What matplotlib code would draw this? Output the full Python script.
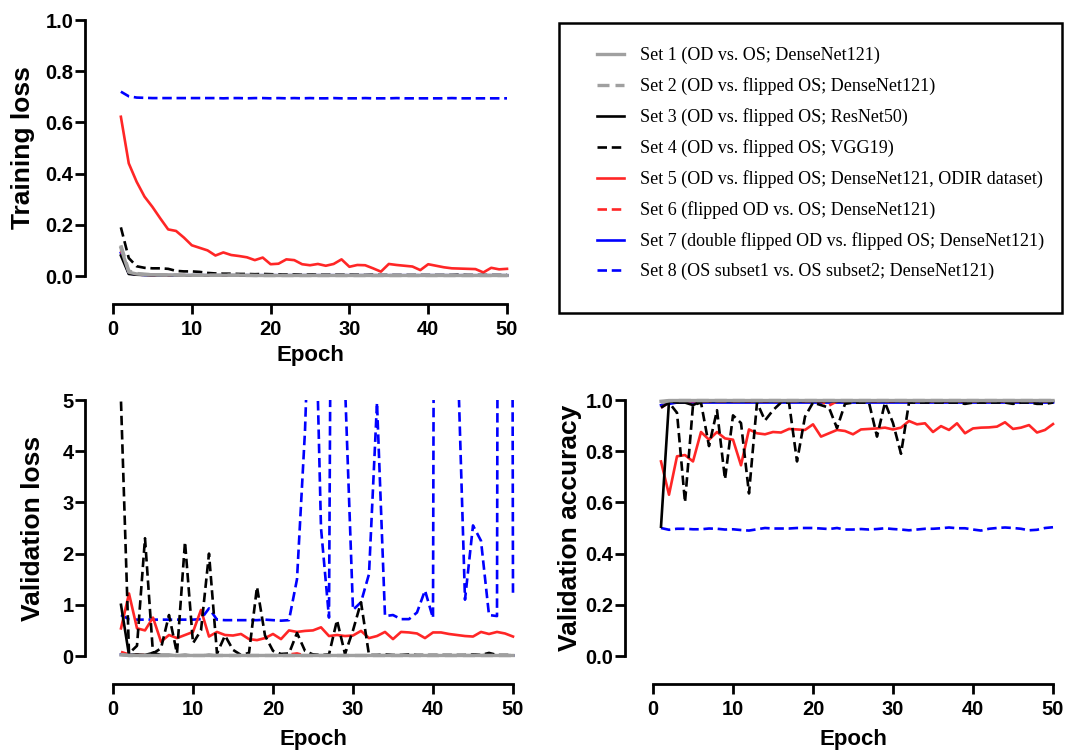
import matplotlib
matplotlib.use("Agg")
import matplotlib.pyplot as plt
import numpy as np
from matplotlib.patches import Rectangle
from matplotlib.ticker import FormatStrFormatter

EPOCHS = np.arange(1, 51)

SET_LABELS = [
    "Set 1 (OD vs. OS; DenseNet121)",
    "Set 2 (OD vs. flipped OS; DenseNet121)",
    "Set 3 (OD vs. flipped OS; ResNet50)",
    "Set 4 (OD vs. flipped OS; VGG19)",
    "Set 5 (OD vs. flipped OS; DenseNet121, ODIR dataset)",
    "Set 6 (flipped OD vs. OS; DenseNet121)",
    "Set 7 (double flipped OD vs. flipped OS; DenseNet121)",
    "Set 8 (OS subset1 vs. OS subset2; DenseNet121)",
]
SET_COLORS = ["#a0a0a0", "#a0a0a0", "#000000", "#000000",
              "#ff2626", "#ff2626", "#0000ff", "#0000ff"]
SET_DASHED = [False, True, False, True, False, True, False, True]

# ---- training loss ----
TRAIN_SET1 = [0.110, 0.015, 0.008, 0.006, 0.005, 0.004, 0.004, 0.004, 0.003, 0.003,
              0.003, 0.003, 0.003, 0.003, 0.003, 0.003, 0.003, 0.002, 0.002, 0.002,
              0.002, 0.002, 0.002, 0.002, 0.002, 0.002, 0.002, 0.002, 0.002, 0.002,
              0.002, 0.002, 0.002, 0.002, 0.002, 0.002, 0.002, 0.002, 0.002, 0.002,
              0.002, 0.002, 0.002, 0.002, 0.002, 0.002, 0.002, 0.002, 0.002, 0.002]
TRAIN_SET2 = [0.120, 0.020, 0.010, 0.007, 0.005, 0.005, 0.004, 0.004, 0.003, 0.003,
              0.003, 0.003, 0.003, 0.003, 0.003, 0.003, 0.002, 0.002, 0.002, 0.002,
              0.002, 0.002, 0.002, 0.002, 0.002, 0.002, 0.002, 0.002, 0.002, 0.002,
              0.002, 0.002, 0.002, 0.002, 0.002, 0.002, 0.002, 0.002, 0.002, 0.002,
              0.002, 0.002, 0.002, 0.002, 0.002, 0.002, 0.002, 0.002, 0.002, 0.002]
TRAIN_SET3 = [0.080, 0.008, 0.005, 0.004, 0.003, 0.003, 0.003, 0.003, 0.002, 0.002,
              0.002, 0.002, 0.002, 0.002, 0.002, 0.002, 0.002, 0.002, 0.002, 0.002,
              0.002, 0.002, 0.002, 0.002, 0.002, 0.002, 0.002, 0.002, 0.002, 0.002,
              0.002, 0.002, 0.002, 0.002, 0.002, 0.002, 0.002, 0.002, 0.002, 0.002,
              0.002, 0.002, 0.002, 0.002, 0.002, 0.002, 0.002, 0.002, 0.002, 0.002]
TRAIN_SET4 = [0.190, 0.070, 0.038, 0.032, 0.030, 0.030, 0.028, 0.020, 0.018, 0.018,
              0.016, 0.012, 0.010, 0.009, 0.009, 0.008, 0.008, 0.007, 0.008, 0.007,
              0.006, 0.006, 0.006, 0.005, 0.006, 0.005, 0.005, 0.005, 0.005, 0.005,
              0.005, 0.004, 0.005, 0.004, 0.004, 0.004, 0.004, 0.004, 0.004, 0.004,
              0.004, 0.004, 0.004, 0.005, 0.004, 0.004, 0.004, 0.004, 0.004, 0.004]
TRAIN_SET5 = [0.622, 0.440, 0.368, 0.310, 0.270, 0.225, 0.182, 0.176, 0.150, 0.120,
              0.110, 0.100, 0.080, 0.092, 0.082, 0.078, 0.073, 0.062, 0.072, 0.046,
              0.048, 0.065, 0.062, 0.046, 0.042, 0.047, 0.040, 0.047, 0.065, 0.036,
              0.043, 0.042, 0.030, 0.017, 0.047, 0.043, 0.040, 0.037, 0.023, 0.046,
              0.040, 0.034, 0.030, 0.029, 0.028, 0.027, 0.014, 0.032, 0.026, 0.028]
TRAIN_SET6 = [0.100, 0.012, 0.006, 0.004, 0.004, 0.003, 0.003, 0.003, 0.003, 0.002,
              0.002, 0.002, 0.002, 0.002, 0.002, 0.002, 0.002, 0.002, 0.002, 0.002,
              0.002, 0.002, 0.002, 0.002, 0.002, 0.002, 0.002, 0.002, 0.002, 0.002,
              0.002, 0.002, 0.002, 0.002, 0.002, 0.002, 0.002, 0.002, 0.002, 0.002,
              0.002, 0.002, 0.002, 0.002, 0.002, 0.002, 0.002, 0.002, 0.002, 0.002]
TRAIN_SET7 = [0.090, 0.010, 0.006, 0.004, 0.004, 0.003, 0.003, 0.003, 0.003, 0.003,
              0.003, 0.003, 0.003, 0.003, 0.003, 0.003, 0.003, 0.003, 0.003, 0.003,
              0.003, 0.003, 0.003, 0.003, 0.003, 0.003, 0.003, 0.003, 0.003, 0.003,
              0.003, 0.003, 0.003, 0.003, 0.003, 0.003, 0.003, 0.003, 0.003, 0.003,
              0.003, 0.003, 0.003, 0.003, 0.003, 0.003, 0.003, 0.003, 0.003, 0.003]
TRAIN_SET8 = [0.720, 0.702, 0.697, 0.696, 0.695, 0.695, 0.695, 0.695, 0.695, 0.695,
              0.695, 0.695, 0.695, 0.694, 0.695, 0.695, 0.694, 0.695, 0.695, 0.694,
              0.695, 0.694, 0.695, 0.694, 0.695, 0.694, 0.694, 0.695, 0.694, 0.694,
              0.694, 0.695, 0.694, 0.694, 0.694, 0.695, 0.694, 0.694, 0.694, 0.694,
              0.694, 0.694, 0.695, 0.694, 0.694, 0.694, 0.694, 0.694, 0.694, 0.694]

# ---- validation loss ----
VAL_LOSS_SET1 = [0.02, 0.01, 0.01, 0.01, 0.01, 0.01, 0.01, 0.01, 0.01, 0.01,
                 0.01, 0.01, 0.01, 0.01, 0.01, 0.01, 0.01, 0.01, 0.01, 0.01,
                 0.01, 0.01, 0.01, 0.01, 0.01, 0.01, 0.01, 0.01, 0.01, 0.01,
                 0.01, 0.01, 0.01, 0.01, 0.01, 0.01, 0.01, 0.01, 0.01, 0.01,
                 0.01, 0.01, 0.01, 0.01, 0.01, 0.01, 0.01, 0.01, 0.01, 0.01]
VAL_LOSS_SET2 = [0.03, 0.01, 0.01, 0.01, 0.01, 0.01, 0.01, 0.01, 0.01, 0.01,
                 0.01, 0.01, 0.01, 0.01, 0.01, 0.01, 0.01, 0.01, 0.01, 0.01,
                 0.01, 0.01, 0.01, 0.01, 0.01, 0.01, 0.01, 0.01, 0.01, 0.01,
                 0.01, 0.01, 0.01, 0.01, 0.01, 0.01, 0.01, 0.01, 0.01, 0.01,
                 0.01, 0.01, 0.01, 0.01, 0.01, 0.01, 0.01, 0.01, 0.01, 0.01]
VAL_LOSS_SET3 = [1.00, 0.02, 0.03, 0.02, 0.06, 0.02, 0.02, 0.01, 0.02, 0.01,
                 0.01, 0.02, 0.01, 0.01, 0.01, 0.01, 0.01, 0.01, 0.01, 0.01,
                 0.01, 0.01, 0.01, 0.01, 0.01, 0.01, 0.01, 0.01, 0.01, 0.01,
                 0.01, 0.01, 0.01, 0.01, 0.01, 0.01, 0.01, 0.01, 0.01, 0.01,
                 0.01, 0.01, 0.01, 0.01, 0.01, 0.01, 0.03, 0.01, 0.01, 0.01]
VAL_LOSS_SET4 = [4.97, 0.05, 0.20, 2.30, 0.05, 0.15, 0.80, 0.05, 2.23, 0.25,
                 0.50, 2.00, 0.05, 0.40, 0.12, 0.02, 0.06, 1.35, 0.40, 0.10,
                 0.04, 0.05, 0.45, 0.10, 0.03, 0.02, 0.03, 0.70, 0.04, 0.50,
                 1.05, 0.02, 0.02, 0.03, 0.02, 0.02, 0.03, 0.02, 0.02, 0.02,
                 0.02, 0.02, 0.02, 0.02, 0.03, 0.02, 0.06, 0.02, 0.02, 0.02]
VAL_LOSS_SET5 = [0.54, 1.22, 0.54, 0.50, 0.75, 0.28, 0.41, 0.35, 0.41, 0.47,
                 0.90, 0.38, 0.47, 0.41, 0.40, 0.43, 0.33, 0.31, 0.35, 0.43,
                 0.33, 0.50, 0.47, 0.49, 0.50, 0.56, 0.39, 0.41, 0.39, 0.40,
                 0.49, 0.35, 0.39, 0.47, 0.33, 0.47, 0.46, 0.44, 0.35, 0.46,
                 0.46, 0.43, 0.41, 0.39, 0.38, 0.47, 0.43, 0.47, 0.44, 0.38]
VAL_LOSS_SET6 = [0.08, 0.03, 0.02, 0.02, 0.01, 0.01, 0.01, 0.01, 0.01, 0.01,
                 0.01, 0.01, 0.01, 0.01, 0.01, 0.01, 0.01, 0.01, 0.01, 0.01,
                 0.01, 0.03, 0.05, 0.01, 0.01, 0.01, 0.01, 0.01, 0.01, 0.01,
                 0.01, 0.01, 0.01, 0.01, 0.01, 0.01, 0.01, 0.01, 0.01, 0.01,
                 0.01, 0.01, 0.01, 0.01, 0.01, 0.01, 0.01, 0.01, 0.01, 0.01]
VAL_LOSS_SET7 = [0.03, 0.02, 0.01, 0.01, 0.01, 0.01, 0.01, 0.01, 0.01, 0.01,
                 0.01, 0.01, 0.01, 0.01, 0.01, 0.01, 0.01, 0.01, 0.01, 0.01,
                 0.01, 0.01, 0.01, 0.01, 0.01, 0.01, 0.01, 0.01, 0.01, 0.01,
                 0.01, 0.01, 0.01, 0.01, 0.01, 0.01, 0.01, 0.01, 0.01, 0.01,
                 0.01, 0.01, 0.01, 0.01, 0.01, 0.01, 0.01, 0.01, 0.01, 0.01]
VAL_LOSS_SET8 = [0.80, 0.72, 0.71, 0.71, 0.71, 0.71, 0.71, 0.71, 0.71, 0.71,
                 0.72, 0.93, 0.71, 0.70, 0.70, 0.70, 0.70, 0.70, 0.71, 0.70,
                 0.69, 0.70, 1.50, 4.40, 9.00, 2.50, 0.75, 30.0, 5.30, 0.90,
                 1.05, 1.60, 4.95, 0.78, 0.80, 0.72, 0.72, 0.85, 1.28, 0.74,
                 60.0, 20.0, 6.30, 1.10, 2.55, 2.25, 0.80, 0.78, 80.0, 1.15]

# ---- validation accuracy ----
VAL_ACC_SET1 = [0.995, 0.998, 0.998, 0.998, 0.998, 0.998, 0.998, 0.998, 0.998, 0.998,
                0.998, 0.998, 0.998, 0.998, 0.998, 0.998, 0.998, 0.998, 0.998, 0.998,
                0.998, 0.998, 0.998, 0.998, 0.998, 0.998, 0.998, 0.998, 0.998, 0.998,
                0.998, 0.998, 0.998, 0.998, 0.998, 0.998, 0.998, 0.998, 0.998, 0.998,
                0.998, 0.998, 0.998, 0.998, 0.998, 0.998, 0.998, 0.998, 0.998, 0.998]
VAL_ACC_SET2 = [0.990, 0.997, 0.998, 0.998, 0.998, 0.998, 0.998, 0.998, 0.998, 0.998,
                0.998, 0.998, 0.998, 0.998, 0.998, 0.998, 0.998, 0.998, 0.998, 0.998,
                0.998, 0.998, 0.998, 0.998, 0.998, 0.998, 0.998, 0.998, 0.998, 0.998,
                0.998, 0.998, 0.998, 0.998, 0.998, 0.998, 0.998, 0.998, 0.998, 0.998,
                0.998, 0.998, 0.998, 0.998, 0.998, 0.998, 0.998, 0.998, 0.998, 0.998]
VAL_ACC_SET3 = [0.505, 0.995, 0.990, 0.990, 0.980, 0.995, 0.995, 0.995, 0.995, 0.995,
                0.995, 0.995, 0.995, 0.995, 0.995, 0.995, 0.995, 0.995, 0.995, 0.995,
                0.995, 0.995, 0.995, 0.995, 0.995, 0.995, 0.995, 0.995, 0.995, 0.995,
                0.995, 0.995, 0.995, 0.995, 0.995, 0.995, 0.995, 0.995, 0.995, 0.995,
                0.995, 0.995, 0.995, 0.995, 0.995, 0.995, 0.995, 0.995, 0.995, 0.995]
VAL_ACC_SET4 = [0.970, 0.990, 0.950, 0.600, 0.980, 0.990, 0.820, 0.960, 0.690, 0.940,
                0.910, 0.635, 0.990, 0.920, 0.960, 0.990, 0.990, 0.760, 0.935, 0.990,
                0.980, 0.970, 0.890, 0.985, 0.990, 0.990, 0.990, 0.857, 0.990, 0.910,
                0.790, 0.990, 0.990, 0.990, 0.990, 0.990, 0.990, 0.990, 0.985, 0.990,
                0.990, 0.990, 0.990, 0.990, 0.985, 0.990, 0.990, 0.985, 0.985, 0.990]
VAL_ACC_SET5 = [0.760, 0.630, 0.780, 0.785, 0.760, 0.875, 0.845, 0.875, 0.850, 0.845,
                0.745, 0.885, 0.870, 0.866, 0.875, 0.873, 0.887, 0.885, 0.883, 0.905,
                0.857, 0.870, 0.883, 0.879, 0.866, 0.885, 0.887, 0.889, 0.892, 0.885,
                0.892, 0.918, 0.905, 0.909, 0.875, 0.898, 0.883, 0.909, 0.870, 0.889,
                0.892, 0.893, 0.896, 0.913, 0.887, 0.892, 0.902, 0.873, 0.883, 0.906]
VAL_ACC_SET6 = [0.970, 0.990, 0.995, 0.995, 0.995, 0.995, 0.995, 0.995, 0.995, 0.995,
                0.995, 0.995, 0.995, 0.995, 0.995, 0.995, 0.995, 0.995, 0.995, 0.995,
                0.995, 0.978, 0.995, 0.995, 0.995, 0.995, 0.995, 0.995, 0.995, 0.995,
                0.995, 0.995, 0.995, 0.995, 0.995, 0.995, 0.995, 0.995, 0.995, 0.995,
                0.995, 0.995, 0.995, 0.995, 0.995, 0.995, 0.995, 0.995, 0.995, 0.995]
VAL_ACC_SET7 = [0.980, 0.985, 0.990, 0.990, 0.990, 0.990, 0.990, 0.990, 0.990, 0.990,
                0.990, 0.990, 0.990, 0.990, 0.990, 0.990, 0.990, 0.990, 0.990, 0.990,
                0.990, 0.990, 0.990, 0.990, 0.990, 0.990, 0.990, 0.990, 0.990, 0.990,
                0.990, 0.990, 0.990, 0.990, 0.990, 0.990, 0.990, 0.990, 0.990, 0.990,
                0.990, 0.990, 0.990, 0.990, 0.990, 0.990, 0.990, 0.990, 0.990, 0.990]
VAL_ACC_SET8 = [0.500, 0.493, 0.497, 0.497, 0.495, 0.495, 0.498, 0.497, 0.494, 0.495,
                0.492, 0.490, 0.495, 0.500, 0.498, 0.498, 0.498, 0.500, 0.500, 0.500,
                0.498, 0.496, 0.500, 0.494, 0.494, 0.496, 0.494, 0.496, 0.499, 0.496,
                0.494, 0.491, 0.494, 0.497, 0.497, 0.499, 0.502, 0.499, 0.499, 0.494,
                0.490, 0.497, 0.500, 0.502, 0.500, 0.497, 0.491, 0.493, 0.500, 0.503]

TRAIN_LOSS = [TRAIN_SET1, TRAIN_SET2, TRAIN_SET3, TRAIN_SET4,
              TRAIN_SET5, TRAIN_SET6, TRAIN_SET7, TRAIN_SET8]
VAL_LOSS = [VAL_LOSS_SET1, VAL_LOSS_SET2, VAL_LOSS_SET3, VAL_LOSS_SET4,
            VAL_LOSS_SET5, VAL_LOSS_SET6, VAL_LOSS_SET7, VAL_LOSS_SET8]
VAL_ACC = [VAL_ACC_SET1, VAL_ACC_SET2, VAL_ACC_SET3, VAL_ACC_SET4,
           VAL_ACC_SET5, VAL_ACC_SET6, VAL_ACC_SET7, VAL_ACC_SET8]

LW = 1.9
LW_GREY = 2.4
DASH = (0, (3.6, 1.8))


def style_axes(ax, ylim, yticks, yfmt):
    ax.set_xlim(0, 50)
    ax.set_ylim(*ylim)
    ax.set_xticks([0, 10, 20, 30, 40, 50])
    ax.set_yticks(yticks)
    if yfmt:
        ax.yaxis.set_major_formatter(FormatStrFormatter(yfmt))
    for side in ("top", "right"):
        ax.spines[side].set_visible(False)
    for side in ("left", "bottom"):
        ax.spines[side].set_linewidth(2.0)
        ax.spines[side].set_position(("outward", 20))
    ax.tick_params(axis="both", direction="out", length=7, width=2.0,
                   labelsize=14.5)
    ax.tick_params(axis="y", pad=1.5)
    ax.tick_params(axis="x", pad=4.5)
    ax.set_xlabel("Epoch", fontsize=16, fontweight="bold")


def draw_sets(ax, series, clip_top=False):
    handles = [None] * len(series)
    clip = None
    if clip_top:
        clip = Rectangle((-0.05, -0.05), 1.1, 1.05, transform=ax.transAxes,
                         facecolor="none", edgecolor="none")
    # draw set 8 first so the grey set 1 ends on top
    for i in reversed(range(len(series))):
        ls = DASH if SET_DASHED[i] else "-"
        lw = LW_GREY if i < 2 else LW
        (line,) = ax.plot(EPOCHS, series[i], color=SET_COLORS[i], lw=lw,
                          linestyle=ls, label=SET_LABELS[i])
        if clip is not None:
            line.set_clip_path(clip)
        else:
            line.set_clip_on(False)
        handles[i] = line
    return handles


def main():
    plt.rcParams.update({
        "font.family": ["Liberation Sans", "DejaVu Sans"],
        "font.weight": "bold",
        "axes.labelweight": "bold",
    })
    W, H = 1065, 754
    fig = plt.figure(figsize=(W / 100, H / 100), dpi=100)

    ax1 = fig.add_axes([113 / W, 1 - 276 / H, 394 / W, 256 / H])
    ax2 = fig.add_axes([113 / W, 1 - 656 / H, 400 / W, 256 / H])
    ax3 = fig.add_axes([653 / W, 1 - 656 / H, 400 / W, 256 / H])

    handles = draw_sets(ax1, TRAIN_LOSS)
    style_axes(ax1, (0, 1.0), [0, 0.2, 0.4, 0.6, 0.8, 1.0], "%.1f")
    ax1.set_ylabel("Training loss", fontsize=19)
    ax1.yaxis.set_label_coords(-0.198, 0.5)
    ax1.xaxis.set_label_coords(0.5, -0.27)

    draw_sets(ax2, VAL_LOSS, clip_top=True)
    style_axes(ax2, (0, 5), [0, 1, 2, 3, 4, 5], "%d")
    ax2.set_ylabel("Validation loss", fontsize=19)
    ax2.yaxis.set_label_coords(-0.17, 0.5)
    ax2.xaxis.set_label_coords(0.5, -0.285)

    draw_sets(ax3, VAL_ACC)
    style_axes(ax3, (0, 1.0), [0, 0.2, 0.4, 0.6, 0.8, 1.0], "%.1f")
    ax3.set_ylabel("Validation accuracy", fontsize=19)
    ax3.yaxis.set_label_coords(-0.178, 0.5)
    ax3.xaxis.set_label_coords(0.5, -0.285)

    # legend box
    fig.patches.append(Rectangle((559 / W, 1 - 313 / H), (1062 - 559) / W, (313 - 23) / H,
                                 transform=fig.transFigure, fill=False,
                                 edgecolor="black", linewidth=1.8))
    fig.legend(handles, SET_LABELS, loc="upper left",
               bbox_to_anchor=(597 / W, 1 - 47 / H), frameon=False,
               borderpad=0, borderaxespad=0, handlelength=1.5,
               handletextpad=0.9, labelspacing=0.72,
               prop={"family": "Liberation Serif", "weight": "normal", "size": 13})

    fig.savefig("out.png", dpi=100)
    plt.close(fig)


if __name__ == "__main__":
    main()
